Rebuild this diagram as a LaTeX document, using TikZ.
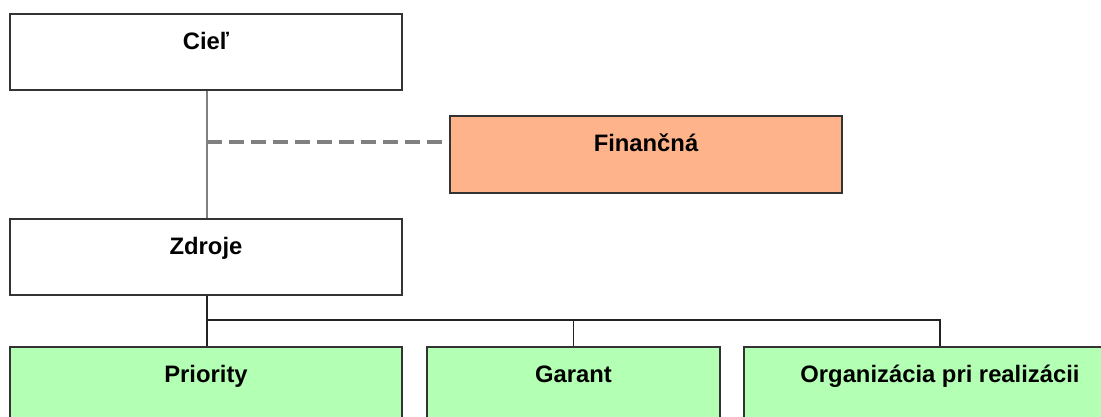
\documentclass[tikz,border=0pt]{standalone}
\usepackage{fontspec}
\setmainfont{Liberation Sans}
\definecolor{boxline}{HTML}{333333}
\definecolor{salmon}{HTML}{FFB38A}
\definecolor{mint}{HTML}{B3FFB3}
\definecolor{grayline}{HTML}{808080}
\definecolor{darkline}{HTML}{222222}
\begin{document}
\begin{tikzpicture}[x=1pt,y=-1pt,
  box/.style={draw=boxline, line width=2pt, fill=white, rectangle, anchor=north,
    minimum width=392pt, inner xsep=0pt, inner ysep=0pt,
    text height=35pt, text depth=41pt,
    font=\fontsize{23.8}{27}\selectfont\bfseries},
  fin/.style={box, fill=salmon, text depth=42pt},
  leaf/.style={box, fill=mint},
  grayconn/.style={draw=grayline, line width=2.8pt},
  dashconn/.style={draw=grayline, line width=3.5pt, dash pattern=on 15pt off 7pt},
  blackconn/.style={draw=darkline, line width=1.8pt}]
\clip (0,0) rectangle (1101,416);
\fill[white] (0,0) rectangle (1101,416);
\node[box] (ciel) at (206,13) {Cieľ};
\node[fin] (fin) at (646,115) {Finančná};
\node[box] (zdroje) at (206,218) {Zdroje};
\node[leaf] (prio) at (206,346) {Priority};
\node[leaf, minimum width=293pt] (garant) at (573.5,346) {Garant};
\node[leaf] (org) at (940,346) {Organizácia pri realizácii};
\coordinate (dj) at (207,142);
\coordinate (bus) at (207,320);
\draw[grayconn] (ciel.south -| dj) -- (zdroje.north -| dj);
\draw[dashconn] (dj) -- (fin.west |- dj);
\draw[blackconn] (zdroje.south -| bus) -- (bus) -- (bus -| org.north) -- (org.north);
\draw[blackconn] (bus) -- (prio.north -| bus);
\draw[blackconn] (bus -| garant.north) -- (garant.north);
\end{tikzpicture}
\end{document}
